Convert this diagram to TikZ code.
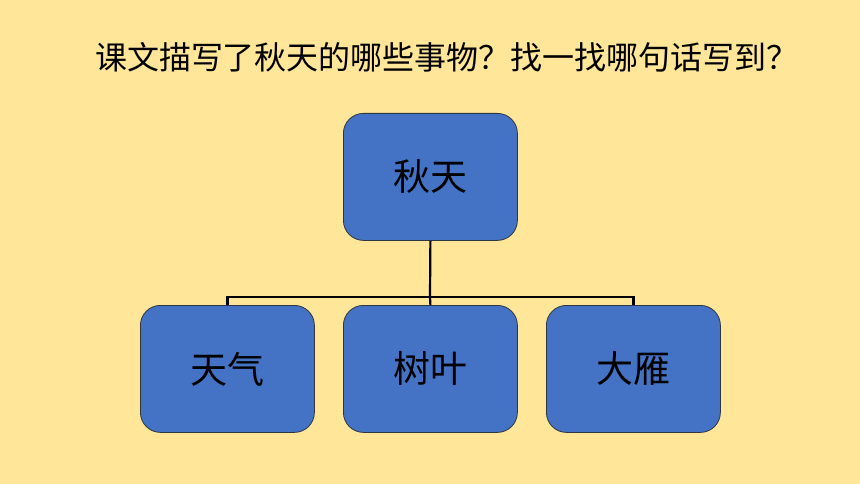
\documentclass[tikz,border=0pt]{standalone}
\usepackage{fontspec}
\newfontfamily\cjk{Noto Sans CJK SC}
\definecolor{bgyellow}{HTML}{FFE699}
\definecolor{boxblue}{HTML}{4472C4}
\definecolor{boxedge}{HTML}{2F3640}
\begin{document}
\begin{tikzpicture}[x=1pt,y=-1pt,
  box/.style={draw=boxedge,line width=0.8pt,fill=boxblue,rounded corners=20pt,
    minimum width=174pt,minimum height=127pt,inner sep=0pt,anchor=north west,
    font=\cjk\fontsize{37}{44}\selectfont,text=black},
  conn/.style={draw=black,line width=2.2pt}]
\fill[bgyellow] (0,0) rectangle (860,484);
\useasboundingbox (0,0) rectangle (860,484);
\node[font=\cjk\fontsize{32}{38}\selectfont,text=black] (title) at (447,57) {课文描写了秋天的哪些事物？找一找哪句话写到？};
\node[box] (top) at (343,113) {秋天};
\node[box] (b1) at (140,305) {天气};
\node[box] (b2) at (343,305) {树叶};
\node[box] (b3) at (546,305) {大雁};
\coordinate (j) at (430,297);
\draw[conn] (top.south) -- (j);
\draw[conn] (b1.north) |- (j) -| (b3.north);
\draw[conn] (j) -- (b2.north);
\end{tikzpicture}
\end{document}
